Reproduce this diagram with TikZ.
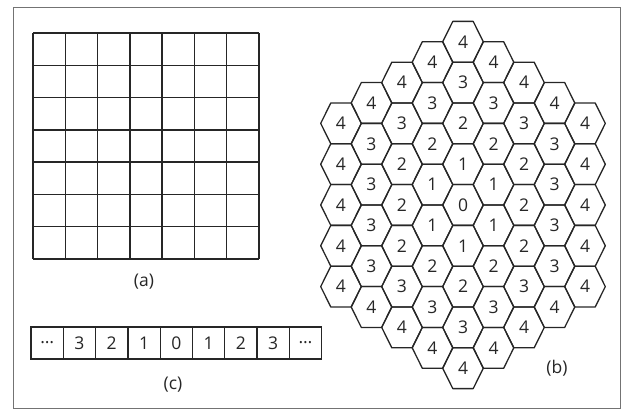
\documentclass[tikz,border=0pt]{standalone}
\usepackage{fontspec}
\setmainfont{Open Sans}
\begin{document}
\begin{tikzpicture}[x=1pt,y=-1pt,
  gridline/.style={line width=1.5pt,black!85},
  hexline/.style={line width=1.3pt,black!85,line join=round},
  num/.style={font=\fontsize{17.5}{17.5}\selectfont,inner sep=0pt,text=black!85},
  lab/.style={font=\fontsize{17.5}{17.5}\selectfont,inner sep=0pt,text=black!85},
  cellbox/.style={draw=black!85,line width=1.3pt,minimum width=32.3pt,minimum height=32pt,inner sep=0pt,outer sep=0pt,font=\fontsize{17.5}{17.5}\selectfont,text=black!85},
  framebox/.style={draw=black!55,line width=0.8pt}]
\useasboundingbox (0,0) rectangle (622,409);
\draw[framebox] (13,7) rectangle (620,408);
% (a) square grid
\foreach \i in {0,...,7}{
  \draw[gridline] ({33+\i*32.29},33) -- ({33+\i*32.29},259);
  \draw[gridline] (33,{33+\i*32.29}) -- (259,{33+\i*32.29});
}
\node[lab] (la) at (144,282) {(a)};
% (c) strip
\foreach \t [count=\k] in {\ldots,3,2,1,0,1,2,3,\ldots}{
  \node[cellbox] (c\k) at ({31+32.3*(\k-0.5)},343) {\t};
}
\node[lab] (lc) at (173,385) {(c)};
% (b) hexagons
\def\hw{20.3}\def\ha{10.2}\def\hh{20.4}
\foreach \q in {-4,...,4}{
  \pgfmathtruncatemacro\rmin{max(-4,-4-\q)}
  \pgfmathtruncatemacro\rmax{min(4,4-\q)}
  \foreach \r in {\rmin,...,\rmax}{
    \pgfmathtruncatemacro\d{max(abs(\q),abs(\r),abs(\q+\r))}
    \pgfmathsetmacro\cx{463+30.5*\q}
    \pgfmathsetmacro\cy{205+40.8*(\r+\q/2)}
    \node[num] (h\q\r) at (\cx,\cy) {\d};
    \draw[hexline] (h\q\r.center) ++(-\hw,0) -- ++({\hw-\ha},-\hh) -- ++({2*\ha},0) -- ++({\hw-\ha},\hh) -- ++({\ha-\hw},\hh) -- ++({-2*\ha},0) -- cycle;
  }
}
\node[lab] (lb) at (557,368) {(b)};
\end{tikzpicture}
\end{document}
